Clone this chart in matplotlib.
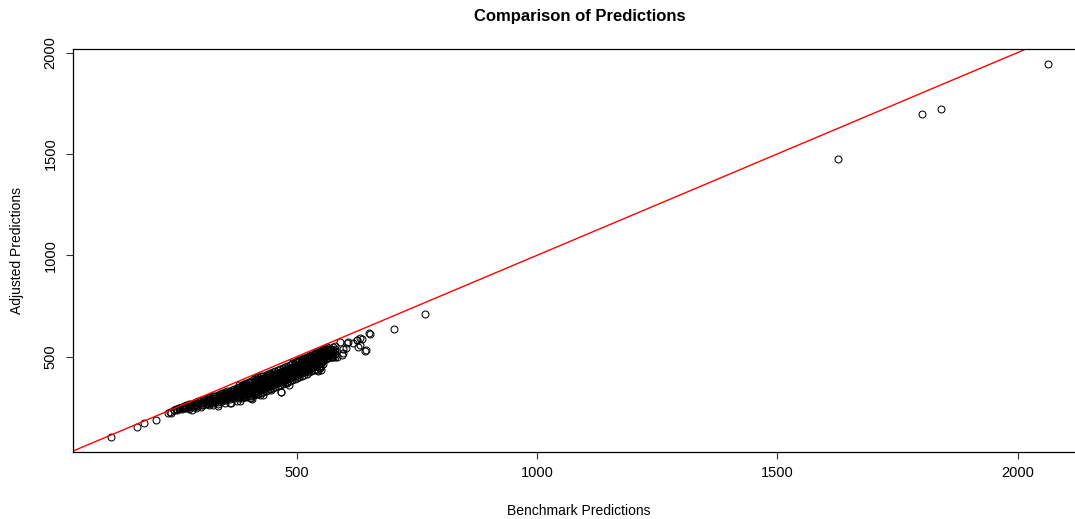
import matplotlib
matplotlib.use("Agg")
import matplotlib.pyplot as plt

plt.rcParams['font.family'] = ['Liberation Sans', 'DejaVu Sans']

# isolated low-end points
bench_low = [113, 167, 182, 207, 232, 237, 249]
adj_low = [105, 151, 173, 186, 220, 223, 240]

# dense band: benchmark value of each column and the adjusted values in it
band_bench = [245, 250, 255, 260, 265, 270, 275, 280, 285, 290, 295, 300,
              305, 310, 315, 320, 325, 330, 335, 340, 345, 350, 355, 360,
              365, 370, 375, 380, 385, 390, 395, 400, 405, 410, 415, 420,
              425, 430, 435, 440, 445, 450, 455, 460, 465, 470, 475, 480,
              485, 490, 495, 500, 505, 510, 515, 520, 525, 530, 535, 540,
              545, 550, 555, 560, 565, 570, 575, 580]
band_adj = [
    [236, 238], [238, 242], [240, 245, 248], [242, 247, 252],
    [245, 251, 256], [247, 254, 260], [249, 257, 264], [251, 260, 268],
    [253, 262, 272], [256, 266, 276], [258, 269, 280], [260, 271, 284],
    [262, 272, 281, 288], [265, 275, 284, 292], [267, 277, 287, 296],
    [270, 280, 290, 300], [272, 283, 294, 304], [275, 286, 297, 308],
    [277, 289, 300, 312], [280, 292, 304, 316],
    [283, 293, 303, 312, 320], [286, 296, 306, 315, 324],
    [289, 299, 309, 319, 328], [292, 302, 312, 322, 332],
    [294, 305, 315, 326, 336], [297, 308, 318, 329, 340],
    [300, 311, 322, 333, 345],
    [296, 303, 312, 322, 331, 341, 350, 358],
    [298, 306, 315, 325, 335, 344, 354, 362],
    [300, 309, 318, 328, 338, 348, 358, 366],
    [303, 312, 322, 332, 342, 352, 362, 370],
    [305, 315, 325, 336, 346, 357, 368, 376],
    [308, 318, 328, 339, 350, 362, 374, 382],
    [311, 322, 331, 341, 351, 361, 370, 380, 388],
    [314, 326, 335, 345, 355, 365, 375, 384, 393],
    [318, 330, 339, 349, 359, 369, 378, 388, 397],
    [321, 334, 344, 354, 363, 373, 383, 392, 402],
    [325, 338, 348, 358, 367, 377, 387, 396, 406],
    [329, 343, 353, 362, 372, 381, 391, 400, 410],
    [333, 348, 357, 367, 376, 386, 395, 404, 414],
    [338, 353, 362, 371, 381, 390, 399, 408, 418],
    [343, 358, 367, 376, 385, 394, 403, 412, 422],
    [348, 363, 372, 381, 390, 399, 408, 416, 427],
    [353, 368, 377, 386, 395, 404, 413, 421, 432],
    [358, 373, 382, 391, 400, 409, 418, 426, 437],
    [363, 378, 387, 396, 405, 414, 423, 431, 442],
    [368, 383, 392, 401, 410, 419, 428, 436, 447],
    [373, 388, 397, 406, 415, 424, 433, 441, 452],
    [378, 394, 403, 412, 421, 430, 438, 446, 457],
    [384, 400, 409, 418, 427, 435, 443, 451, 462, 470],
    [390, 405, 414, 423, 432, 440, 448, 456, 466, 475],
    [396, 410, 419, 428, 437, 445, 453, 461, 471, 480],
    [401, 415, 424, 433, 442, 450, 458, 466, 476, 485],
    [406, 420, 429, 438, 447, 455, 463, 471, 481, 490],
    [411, 425, 434, 443, 452, 460, 468, 476, 486, 495],
    [416, 430, 439, 448, 457, 465, 473, 481, 491, 500],
    [422, 436, 445, 454, 462, 470, 478, 486, 496, 505],
    [428, 442, 451, 459, 467, 475, 483, 491, 501, 510],
    [434, 448, 457, 465, 473, 481, 489, 496, 506, 515],
    [441, 455, 463, 471, 479, 487, 494, 501, 511, 520],
    [448, 462, 470, 478, 485, 492, 499, 506, 516, 525],
    [456, 470, 478, 486, 493, 500, 511, 520, 529],
    [464, 478, 486, 494, 501, 508, 516, 525, 533],
    [486, 494, 502, 510, 521, 530, 538],
    [494, 503, 512, 526, 535, 543],
    [500, 510, 520, 530, 540],
    [508, 522, 535, 545],
    [515, 528, 540, 550],
]

# scattered points around the band
bench_mid = [
    318, 336, 363, 381, 405, 429, 446, 467, 361, 335, 407, 467, 483,
    290, 300, 275, 548, 556, 562, 540, 590,
    551, 544, 554, 579, 596, 603, 617, 631, 644, 651, 596, 583, 572,
    607, 624, 635, 632, 641, 653, 703, 766,
    403, 375, 424, 479, 500, 521, 542, 549, 576, 594, 569, 604, 625,
    628, 326, 351, 281, 236,
]
adj_mid = [
    261, 266, 273, 283, 295, 311, 335, 327, 270, 257, 293, 324, 360,
    248, 250, 243, 530, 540, 548, 522, 572,
    434, 431, 483, 500, 517, 541, 566, 590, 533, 615, 536, 497, 497,
    572, 582, 586, 557, 529, 613, 638, 709,
    294, 283, 311, 368, 426, 450, 434, 443, 500, 508, 517, 566, 582,
    549, 261, 270, 237, 228,
]

# large predictions
bench_high = [1627, 1801, 1841, 2062]
adj_high = [1475, 1697, 1722, 1944]

bench = list(bench_low)
adj = list(adj_low)
for bx, col in zip(band_bench, band_adj):
    bench += [bx] * len(col)
    adj += col
bench += bench_mid + bench_high
adj += adj_mid + adj_high

fig = plt.figure(figsize=(10.75, 5.19), dpi=100)
ax = fig.add_axes([0.0679, 0.1297, 0.9414, 0.7753])

ax.plot(bench, adj, linestyle='none', marker='o', markersize=5,
        markerfacecolor='none', markeredgecolor='black', markeredgewidth=0.75)
ax.axline((0, 0), slope=1, color='red', linewidth=1)

ax.set_xlim(34, 2140)
ax.set_ylim(31, 2016)
ax.set_xticks([500, 1000, 1500, 2000])
ax.set_yticks([500, 1000, 1500, 2000])
ax.tick_params(direction='out', length=5, width=0.8, labelsize=10.5,
               colors='#333333', labelcolor='black')
ax.tick_params(axis='x', pad=5)
ax.tick_params(axis='y', pad=6)
plt.setp(ax.get_yticklabels(), rotation=90, va='center')
for s in ax.spines.values():
    s.set_linewidth(0.9)

ax.set_xlabel('Benchmark Predictions', fontsize=10)
ax.set_ylabel('Adjusted Predictions', fontsize=10)
ax.xaxis.set_label_coords(0.5, -0.147)
ax.yaxis.set_label_coords(-0.0553, 0.501)
ax.xaxis.label.set_va('center')
ax.yaxis.label.set_va('center')
fig.text(0.539, 0.969, 'Comparison of Predictions', ha='center', va='center',
         fontsize=12, fontweight='bold')

fig.savefig('out.png', dpi=100)
